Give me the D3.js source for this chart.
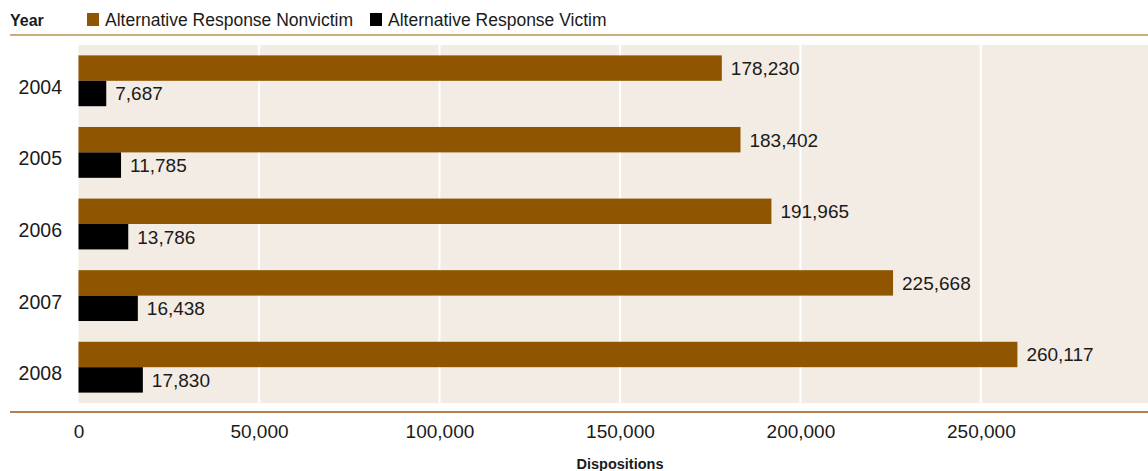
<!DOCTYPE html>
<html>
<head>
<meta charset="utf-8">
<script src="https://cdn.jsdelivr.net/npm/d3@7"></script>
<style>
  html, body { margin: 0; padding: 0; background: #fff; }
  svg { display: block; }
  text { font-family: "Liberation Sans", Arial, sans-serif; fill: #1a1a1a; }
  .bold { font-family: "Liberation Sans Narrow", "Liberation Sans", Arial, sans-serif; font-weight: bold; }
</style>
</head>
<body>
<svg id="chart" width="1148" height="471"></svg>
<script>
// Alternative response dispositions by year
const years = ["2004", "2005", "2006", "2007", "2008"];
const nonvictim = [178230, 183402, 191965, 225668, 260117];
const victim = [7687, 11785, 13786, 16438, 17830];
const seriesNames = ["Alternative Response Nonvictim", "Alternative Response Victim"];
const seriesColors = ["#8f5500", "#000000"];
const xTicks = [0, 50000, 100000, 150000, 200000, 250000];

const W = 1148, H = 471;
const plot = { left: 78.5, right: 1148, top: 45, bottom: 403 };

const svg = d3.select("#chart");

const x = d3.scaleLinear().domain([0, 296300]).range([plot.left, plot.right]);
const y = d3.scaleBand().domain(years).range([plot.top, plot.bottom]).paddingInner(0.29).paddingOuter(0.145);
const sub = d3.scaleBand().domain([0, 1]).range([0, y.bandwidth()]);

// plot background
svg.append("rect")
  .attr("x", plot.left).attr("y", plot.top)
  .attr("width", plot.right - plot.left).attr("height", plot.bottom - plot.top)
  .attr("fill", "#f3ece4");

// vertical gridlines
svg.append("g").selectAll("line")
  .data(xTicks.filter(d => d > 0))
  .join("line")
  .attr("x1", d => x(d)).attr("x2", d => x(d))
  .attr("y1", plot.top).attr("y2", plot.bottom)
  .attr("stroke", "#ffffff").attr("stroke-width", 2);

// legend header
svg.append("text").attr("class", "bold")
  .attr("x", 10).attr("y", 26).attr("font-size", 16).text("Year");

const legendX = [87, 370];
seriesNames.forEach((name, i) => {
  svg.append("rect").attr("x", legendX[i]).attr("y", 13).attr("width", 12).attr("height", 13)
    .attr("fill", seriesColors[i]);
  svg.append("text").attr("x", legendX[i] + 18).attr("y", 26).attr("font-size", 17.5).text(name);
});

svg.append("line").attr("x1", 10).attr("x2", W).attr("y1", 35).attr("y2", 35)
  .attr("stroke", "#b8924e").attr("stroke-width", 1.5);

// bars
const rows = years.map((yr, i) => ({ year: yr, values: [nonvictim[i], victim[i]] }));
const groups = svg.append("g").selectAll("g")
  .data(rows).join("g")
  .attr("transform", d => `translate(0,${y(d.year)})`);

groups.selectAll("rect")
  .data(d => d.values.map((v, k) => ({ v, k })))
  .join("rect")
  .attr("x", x(0))
  .attr("y", d => sub(d.k))
  .attr("width", d => x(d.v) - x(0))
  .attr("height", sub.bandwidth())
  .attr("fill", d => seriesColors[d.k]);

const fmt = d3.format(",");
groups.selectAll("text.val")
  .data(d => d.values.map((v, k) => ({ v, k })))
  .join("text")
  .attr("class", "val")
  .attr("x", d => x(d.v) + 9)
  .attr("y", d => sub(d.k) + sub.bandwidth() / 2)
  .attr("dy", "0.36em")
  .attr("font-size", 19)
  .text(d => fmt(d.v));

// year labels
svg.append("g").selectAll("text")
  .data(years).join("text")
  .attr("x", 62).attr("y", d => y(d) + y.bandwidth() / 2 + 6)
  .attr("dy", "0.36em")
  .attr("text-anchor", "end")
  .attr("font-size", 19.5)
  .text(d => d);

// bottom axis
svg.append("line").attr("x1", 10).attr("x2", W).attr("y1", 412).attr("y2", 412)
  .attr("stroke", "#9a5510").attr("stroke-width", 1.5);

const axis = svg.append("g").attr("transform", "translate(0,421)")
  .call(d3.axisBottom(x).tickValues(xTicks).tickFormat(fmt).tickSize(0).tickPadding(0));
axis.select(".domain").remove();
axis.selectAll("text").attr("font-size", 19).attr("dy", "0.9em").attr("fill", "#1a1a1a")
  .attr("font-family", "Liberation Sans, Arial, sans-serif");

svg.append("text").attr("class", "bold")
  .attr("x", 620).attr("y", 469).attr("text-anchor", "middle").attr("font-size", 14.5)
  .text("Dispositions");
</script>
</body>
</html>
